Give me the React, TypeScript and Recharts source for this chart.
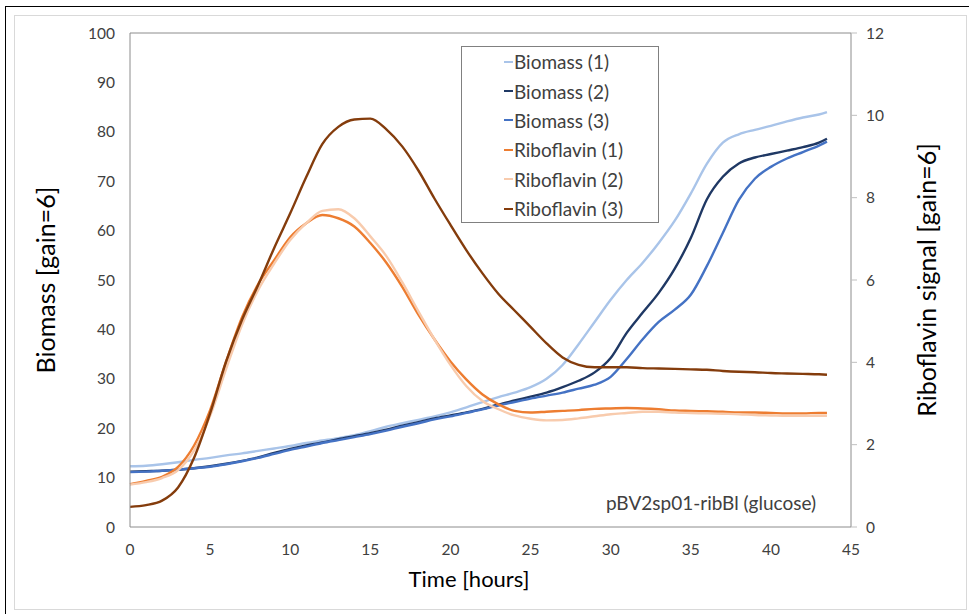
import { LineChart, Line, XAxis, YAxis, ReferenceLine, Legend } from "recharts";

// sample times (hours)
const hours = [
  0, 1, 2, 3, 4, 5, 6, 7, 8, 9, 10, 11, 12, 13, 14, 15, 16, 17, 18, 19, 20, 21, 22,
  23, 24, 25, 26, 27, 28, 29, 30, 31, 32, 33, 34, 35, 36, 37, 38, 39, 40, 41, 42, 43, 43.5,
];

// biomass, left axis
const biomass1 = [
  12.3, 12.4, 12.7, 13.1, 13.6, 14.0, 14.5, 14.9, 15.4, 15.9, 16.4, 17.0, 17.5, 18.0, 18.6,
  19.4, 20.3, 21.0, 21.7, 22.4, 23.2, 24.2, 25.3, 26.3, 27.2, 28.3, 30.0, 32.8, 37.0, 41.5,
  46.0, 50.0, 53.5, 57.5, 62.0, 67.5, 73.5, 77.8, 79.5, 80.4, 81.2, 82.1, 82.9, 83.5, 84.0,
];
const biomass2 = [
  11.2, 11.3, 11.4, 11.6, 11.9, 12.3, 12.8, 13.4, 14.1, 15.0, 15.8, 16.5, 17.1, 17.8, 18.4,
  19.0, 19.7, 20.5, 21.2, 22.0, 22.6, 23.2, 23.9, 24.8, 25.6, 26.4, 27.2, 28.3, 29.6, 31.3,
  34.2, 39.3, 43.4, 47.4, 52.3, 58.5, 66.3, 70.9, 73.6, 74.8, 75.5, 76.2, 76.9, 77.8, 78.6,
];
const biomass3 = [
  11.1, 11.2, 11.4, 11.6, 11.9, 12.2, 12.7, 13.3, 14.0, 14.8, 15.6, 16.3, 17.0, 17.6, 18.2,
  18.8, 19.5, 20.3, 21.0, 21.8, 22.4, 23.1, 23.8, 24.6, 25.3, 26.0, 26.6, 27.2, 28.0, 28.8,
  30.4, 34.0, 38.0, 41.5, 44.0, 47.0, 52.8, 59.5, 66.2, 70.5, 72.9, 74.6, 75.9, 77.2, 78.0,
];

// riboflavin signal, right axis
const ribo1 = [
  1.04, 1.12, 1.22, 1.46, 1.98, 2.84, 4.02, 5.1, 5.9, 6.48, 7.04, 7.38, 7.58, 7.5, 7.3,
  6.9, 6.42, 5.83, 5.16, 4.56, 4.02, 3.58, 3.22, 2.98, 2.82, 2.78, 2.8, 2.82, 2.84, 2.87,
  2.88, 2.89, 2.88, 2.86, 2.83, 2.82, 2.81, 2.8, 2.78, 2.78, 2.77, 2.76, 2.76, 2.77, 2.77,
];
const ribo2 = [
  1.03, 1.09, 1.19, 1.38, 1.86, 2.7, 3.84, 4.92, 5.76, 6.4, 6.97, 7.38, 7.68, 7.72, 7.5,
  7.06, 6.58, 5.94, 5.24, 4.56, 3.94, 3.42, 3.06, 2.86, 2.71, 2.63, 2.59, 2.6, 2.64, 2.69,
  2.74, 2.77, 2.8, 2.8, 2.78, 2.77, 2.76, 2.75, 2.74, 2.72, 2.71, 2.7, 2.7, 2.7, 2.7,
];
const ribo3 = [
  0.49, 0.53, 0.64, 0.96, 1.68, 2.76, 4.02, 5.04, 5.88, 6.78, 7.62, 8.5, 9.3, 9.72, 9.9,
  9.92, 9.66, 9.24, 8.66, 7.98, 7.34, 6.72, 6.16, 5.66, 5.26, 4.86, 4.46, 4.12, 3.94, 3.88,
  3.88, 3.88, 3.86, 3.85, 3.84, 3.83, 3.82, 3.79, 3.77, 3.76, 3.74, 3.73, 3.72, 3.71, 3.7,
];

const xTicks = [0, 5, 10, 15, 20, 25, 30, 35, 40, 45];
const leftTicks = [0, 10, 20, 30, 40, 50, 60, 70, 80, 90, 100];
const rightTicks = [0, 2, 4, 6, 8, 10, 12];

const series = [
  { key: "b1", name: "Biomass (1)", color: "#a9c4e9", axis: "left" },
  { key: "b2", name: "Biomass (2)", color: "#1f3864", axis: "left" },
  { key: "b3", name: "Biomass (3)", color: "#4472c4", axis: "left" },
  { key: "r1", name: "Riboflavin (1)", color: "#ed7d31", axis: "right" },
  { key: "r2", name: "Riboflavin (2)", color: "#f8cbad", axis: "right" },
  { key: "r3", name: "Riboflavin (3)", color: "#843c0c", axis: "right" },
];

const data = hours.map((t, i) => ({
  t,
  b1: biomass1[i],
  b2: biomass2[i],
  b3: biomass3[i],
  r1: ribo1[i],
  r2: ribo2[i],
  r3: ribo3[i],
}));

const font = "Lato, 'Open Sans', sans-serif";
const tickStyle = { fontSize: 15.5, fill: "#404040", fontFamily: font };

function LegendBox() {
  return (
    <div style={{ fontFamily: font, fontSize: 19, color: "#404040" }}>
      {series.map((s) => (
        <div key={s.key} style={{ height: 29.4, display: "flex", alignItems: "center" }}>
          <span style={{ width: 9, height: 2, background: s.color, marginLeft: 42, marginRight: 1 }} />
          <span>{s.name}</span>
        </div>
      ))}
    </div>
  );
}

const titleStyle = {
  position: "absolute" as const,
  whiteSpace: "nowrap" as const,
  fontFamily: font,
  color: "#000",
};

export default function App() {
  return (
    <div style={{ position: "absolute", left: 0, top: 0, width: 969, height: 614, background: "#fff" }}>
      <div
        style={{
          position: "absolute",
          left: 5,
          top: 6,
          right: 0,
          bottom: 0,
          borderTop: "1px solid #000",
          borderLeft: "1px solid #000",
        }}
      />
      <div
        style={{
          position: "absolute",
          left: 14,
          top: 15,
          width: 953,
          height: 595,
          border: "1px solid #d9d9d9",
          boxSizing: "border-box",
        }}
      />
      <LineChart
        width={969}
        height={614}
        data={data}
        margin={{ top: 33, right: 0, left: 0, bottom: 0 }}
        style={{ position: "absolute", left: 0, top: 0 }}
      >
        <XAxis
          dataKey="t"
          type="number"
          domain={[0, 45]}
          ticks={xTicks}
          height={87}
          tick={tickStyle}
          tickLine={false}
          tickMargin={11}
          axisLine={{ stroke: "#8c8c8c" }}
        />
        <YAxis
          yAxisId="left"
          domain={[0, 100]}
          ticks={leftTicks}
          width={130}
          tick={tickStyle}
          tickLine={false}
          tickMargin={9}
          axisLine={{ stroke: "#8c8c8c" }}
        />
        <YAxis
          yAxisId="right"
          orientation="right"
          domain={[0, 12]}
          ticks={rightTicks}
          width={118}
          tick={{ ...tickStyle, textAnchor: "start" }}
          tickSize={6}
          tickMargin={9}
          tickLine={{ stroke: "#bfbfbf" }}
          axisLine={{ stroke: "#8c8c8c" }}
        />
        <ReferenceLine yAxisId="left" y={100} stroke="#8c8c8c" />
        {series.map((s) => (
          <Line
            key={s.key}
            yAxisId={s.axis}
            dataKey={s.key}
            name={s.name}
            stroke={s.color}
            strokeWidth={2.4}
            dot={false}
            type="monotone"
            isAnimationActive={false}
          />
        ))}
        <Legend
          layout="vertical"
          align="center"
          verticalAlign="middle"
          content={() => <LegendBox />}
          wrapperStyle={{
            left: 461,
            top: 46,
            width: 198,
            height: 177,
            border: "1px solid #808080",
            background: "#fff",
            boxSizing: "border-box",
          }}
        />
      </LineChart>
      <div
        style={{
          ...titleStyle,
          left: 45,
          top: 280,
          fontSize: 25,
          transform: "translate(-50%, -50%) rotate(-90deg)",
        }}
      >
        Biomass [gain=6]
      </div>
      <div
        style={{
          ...titleStyle,
          left: 926,
          top: 280,
          fontSize: 25,
          transform: "translate(-50%, -50%) rotate(-90deg)",
        }}
      >
        Riboflavin signal [gain=6]
      </div>
      <div
        style={{
          ...titleStyle,
          left: 469,
          top: 578,
          fontSize: 22,
          transform: "translate(-50%, -50%)",
        }}
      >
        Time [hours]
      </div>
      <div
        style={{
          ...titleStyle,
          left: 606,
          top: 502,
          fontSize: 19,
          color: "#404040",
          transform: "translateY(-50%)",
        }}
      >
        pBV2sp01-ribBl (glucose)
      </div>
    </div>
  );
}
